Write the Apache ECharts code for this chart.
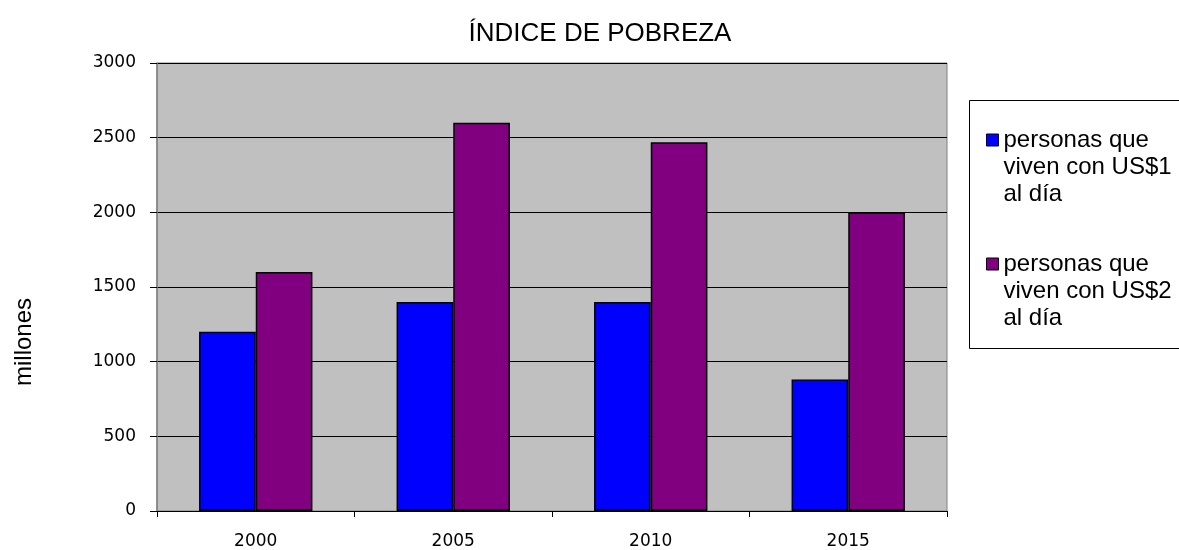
<!DOCTYPE html>
<html>
<head>
<meta charset="utf-8">
<script src="https://cdn.jsdelivr.net/npm/echarts@6/dist/echarts.min.js"></script>
<style>
html,body{margin:0;padding:0;background:#fff;}
#chart{width:1179px;height:550px;}
</style>
</head>
<body>
<div id="chart"></div>
<script>
const titleText = 'ÍNDICE DE POBREZA';
const yAxisTitle = 'millones';
const categories = ['2000', '2005', '2010', '2015'];
const seriesNames = ['personas que\nviven con US$1\nal día', 'personas que\nviven con US$2\nal día'];
const usd1 = [1200, 1400, 1400, 880];
const usd2 = [1600, 2600, 2470, 2000];
const yTicks = {min: 0, max: 3000, interval: 500};

const chart = echarts.init(document.getElementById('chart'));
const sansFont = 'Liberation Sans, Arial, sans-serif';
const legendText = {fontFamily: sansFont, fontSize: 24, lineHeight: 27, color: '#000'};
const legendBase = {
  left: 986, icon: 'rect', itemWidth: 12, itemHeight: 12, padding: 0,
  itemStyle: {borderColor: '#000', borderWidth: 1},
  textStyle: legendText,
  formatter: function (n) { return '\n\n' + n; }
};
chart.setOption({
  animation: false,
  backgroundColor: '#fff',
  title: {
    text: titleText, left: 595, top: 16, textAlign: 'center',
    textStyle: {fontFamily: sansFont, fontSize: 26, fontWeight: 'normal', color: '#000'}
  },
  graphic: [
    {type: 'rect', shape: {x: 969.5, y: 100.5, width: 300, height: 248}, style: {fill: '#fff', stroke: '#000', lineWidth: 1}, z: -1},
    {type: 'text', x: 24, y: 342, rotation: Math.PI / 2,
     style: {text: yAxisTitle, fontFamily: sansFont, fontSize: 24, fill: '#000', textAlign: 'center', textVerticalAlign: 'middle'}}
  ],
  legend: [
    Object.assign({data: [seriesNames[0]], top: 72.5}, legendBase),
    Object.assign({data: [seriesNames[1]], top: 196.5}, legendBase)
  ],
  grid: {left: 157, right: 232, top: 63, bottom: 37, show: true, backgroundColor: '#c0c0c0', borderColor: '#808080', borderWidth: 1, containLabel: false},
  xAxis: {
    type: 'category', data: categories,
    axisLine: {show: true, lineStyle: {color: '#000', width: 1}},
    axisTick: {show: true, length: 6, lineStyle: {color: '#000'}},
    axisLabel: {margin: 22, color: '#000', fontFamily: 'DejaVu Sans, sans-serif', fontSize: 17}
  },
  yAxis: {
    type: 'value', min: yTicks.min, max: yTicks.max, interval: yTicks.interval,
    axisLine: {show: true, lineStyle: {color: '#808080', width: 1.5}},
    axisTick: {show: true, length: 7, lineStyle: {color: '#000'}},
    axisLabel: {margin: 21, color: '#000', fontFamily: 'DejaVu Sans, sans-serif', fontSize: 17,
                formatter: function (v) { return String(v); }},
    splitLine: {show: true, lineStyle: {color: '#000', width: 1}}
  },
  series: [
    {name: seriesNames[0], type: 'bar', data: usd1, barGap: '0%', barCategoryGap: '42.6%',
     itemStyle: {color: '#0000ff', borderColor: '#000', borderWidth: 1.5}},
    {name: seriesNames[1], type: 'bar', data: usd2, barGap: '0%', barCategoryGap: '42.6%',
     itemStyle: {color: '#800080', borderColor: '#000', borderWidth: 1.5}}
  ]
});
</script>
</body>
</html>
